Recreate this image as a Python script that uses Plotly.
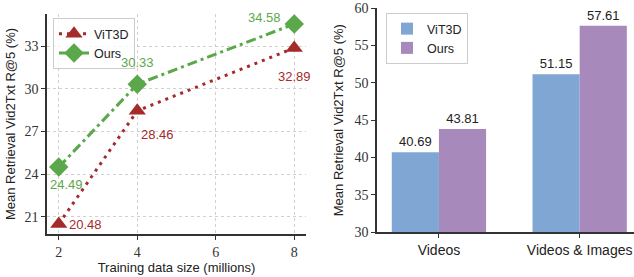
import plotly.graph_objects as go

# ---- data ----
sizes = [2, 4, 8]
vit3d_line = [20.48, 28.46, 32.89]
ours_line = [24.49, 30.33, 34.58]

bar_cats = ["Videos", "Videos & Images"]
vit3d_bar = [40.69, 51.15]
ours_bar = [43.81, 57.61]

series_names = ["ViT3D", "Ours"]
xticks_left = [2, 4, 6, 8]
yticks_left = [21, 24, 27, 30, 33]
yticks_right = [30, 35, 40, 45, 50, 55, 60]

RED = "#a52a2a"
GREEN = "#5ba84b"
BLUE = "#80a6d4"
PURPLE = "#a889bb"
SERIF = "Liberation Serif, DejaVu Serif, serif"
SANS = "Liberation Sans, Arial, sans-serif"
AX = "#333333"

fig = go.Figure()

fig.add_trace(go.Scatter(
    x=sizes, y=vit3d_line, name=series_names[0], mode="lines+markers",
    line=dict(color=RED, width=3, dash="3px,5px"),
    marker=dict(symbol="triangle-up", size=15, color=RED),
    xaxis="x", yaxis="y", legend="legend"))
fig.add_trace(go.Scatter(
    x=sizes, y=ours_line, name=series_names[1], mode="lines+markers",
    line=dict(color=GREEN, width=3, dash="10px,4px,3px,4px"),
    marker=dict(symbol="diamond", size=15, color=GREEN),
    xaxis="x", yaxis="y", legend="legend"))

fig.add_trace(go.Bar(
    x=[0, 1], y=[v - 30 for v in vit3d_bar], base=30, name=series_names[0],
    marker=dict(color=BLUE, line=dict(width=0)), width=0.335, offset=-0.335,
    text=[f"{v:.2f}" for v in vit3d_bar], textposition="outside",
    textfont=dict(family=SANS, size=13, color="#222"), cliponaxis=False,
    xaxis="x2", yaxis="y2", legend="legend2"))
fig.add_trace(go.Bar(
    x=[0, 1], y=[v - 30 for v in ours_bar], base=30, name=series_names[1],
    marker=dict(color=PURPLE, line=dict(width=0)), width=0.335, offset=0,
    text=[f"{v:.2f}" for v in ours_bar], textposition="outside",
    textfont=dict(family=SANS, size=13, color="#222"), cliponaxis=False,
    xaxis="x2", yaxis="y2", legend="legend2"))

# data labels for lines
vit_off = [(27, 0), (20, -24), (0, -29)]
ours_off = [(8, -17), (0, 22), (-30, 7)]
ann = []
for xs, ys, offs, col in [(sizes, vit3d_line, vit_off, RED), (sizes, ours_line, ours_off, GREEN)]:
    for xv, yv, (dx, dy) in zip(xs, ys, offs):
        ann.append(dict(x=xv, y=yv, xref="x", yref="y", text=f"{yv:.2f}",
                        showarrow=False, xshift=dx, yshift=dy,
                        font=dict(family=SANS, size=13, color=col)))

W, H = 634, 277
fig.update_layout(
    width=W, height=H, margin=dict(l=0, r=0, t=0, b=0, autoexpand=False),
    plot_bgcolor="white", paper_bgcolor="white",
    barmode="overlay", showlegend=True,
    annotations=ann,
    xaxis=dict(domain=[47 / W, 306 / W], range=[1.7, 8.3], tickvals=xticks_left,
               automargin=False,
               showline=True, linecolor=AX, linewidth=1.5, ticks="outside", ticklen=4,
               tickcolor=AX, tickfont=dict(family=SERIF, size=14, color="#333"),
               showgrid=True, gridcolor="#d0d0d0", griddash="dot", gridwidth=1,
               zeroline=False, mirror=False,
               title=dict(text="Training data size (millions)",
                          font=dict(family=SANS, size=13, color="#222"), standoff=0)),
    yaxis=dict(domain=[(H - 234) / H, (H - 14) / H], range=[19.775, 35.285], tickvals=yticks_left,
               automargin=False,
               showline=True, linecolor=AX, linewidth=1.5, ticks="outside", ticklen=4,
               tickcolor=AX, tickfont=dict(family=SERIF, size=14, color="#333"),
               showgrid=True, gridcolor="#d0d0d0", griddash="dot", gridwidth=1,
               zeroline=False,
               title=dict(text="Mean Retrieval Vid2Txt R@5 (%)",
                          font=dict(family=SANS, size=13, color="#222"), standoff=6)),
    xaxis2=dict(domain=[377 / W, 1.0], range=[-0.44, 1.386], tickvals=[0, 1], ticktext=bar_cats,
                automargin=False,
                showline=True, linecolor=AX, linewidth=1.5, ticks="outside", ticklen=4,
                tickcolor=AX, tickfont=dict(family=SANS, size=14, color="#222"),
                ticklabeloverflow="allow",
                showgrid=False, zeroline=False, anchor="y2"),
    yaxis2=dict(domain=[(H - 232.3) / H, (H - 8) / H], range=[30, 60], tickvals=yticks_right,
                automargin=False,
                showline=True, linecolor=AX, linewidth=1.5, ticks="outside", ticklen=4,
                tickcolor=AX, tickfont=dict(family=SERIF, size=14, color="#333"),
                ticklabeloverflow="allow",
                showgrid=False, zeroline=False, anchor="x2",
                title=dict(text="Mean Retrieval Vid2Txt R@5 (%)",
                           font=dict(family=SANS, size=13, color="#222"), standoff=8)),
    legend=dict(x=53 / W, y=1 - 18 / H, xanchor="left", yanchor="top",
                bgcolor="rgba(255,255,255,0.8)", bordercolor="#cccccc", borderwidth=1,
                font=dict(family=SANS, size=12.5, color="#222"), itemwidth=30,
                tracegroupgap=0),
    legend2=dict(x=386 / W, y=1 - 13 / H, xanchor="left", yanchor="top",
                 bgcolor="rgba(255,255,255,0.8)", bordercolor="#cccccc", borderwidth=1,
                 font=dict(family=SANS, size=12.5, color="#222"), itemwidth=30,
                 tracegroupgap=0),
)

fig.write_html("out.html", config={"displayModeBar": False},
               post_script="document.body.style.margin='0px';")
